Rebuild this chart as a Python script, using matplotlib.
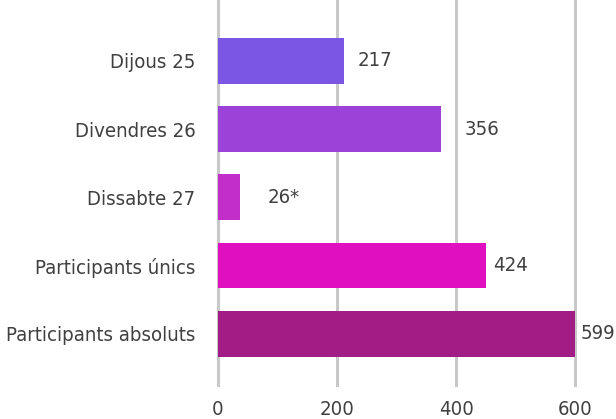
import matplotlib
matplotlib.use("Agg")
import matplotlib.pyplot as plt
from matplotlib import font_manager
from matplotlib.font_manager import FontProperties
from matplotlib.textpath import TextPath

# dades
categories = ["Dijous 25", "Divendres 26", "Dissabte 27", "Participants únics", "Participants absoluts"]
valors = [212, 375, 38, 450, 600]
etiquetes = ["217", "356", "26*", "424", "599"]
colors = ["#7B55E3", "#9D42D8", "#C22EC9", "#E010C0", "#A21C85"]
ticks_x = [0, 200, 400, 600]

# triar una font estreta si n'hi ha
fonts = font_manager.fontManager.ttflist
estreta = None
for f in fonts:
    if f.name == "Liberation Sans Narrow":
        estreta = ("Liberation Sans Narrow", "normal")
        break
if estreta is None:
    for f in fonts:
        if f.name == "DejaVu Sans" and "Condensed" in f.fname:
            estreta = ("DejaVu Sans", "condensed")
            break
if estreta is None:
    estreta = ("Liberation Sans", "normal")
familia, stretch = estreta
plt.rcParams["font.family"] = [familia, "DejaVu Sans"]
plt.rcParams["font.stretch"] = stretch

# mida de lletra perque "Participants absoluts" faci uns 187 px
fp = FontProperties(family=[familia], stretch=stretch, size=16)
amplada = TextPath((0, 0), categories[-1], prop=fp).get_extents().width  # en punts
mida = 16 * (187 * 0.72) / amplada
mida = max(12, min(mida, 17))

fig = plt.figure(figsize=(6.16, 4.19), dpi=100)
ax = fig.add_axes([0.3534, 0.081, 0.934 - 0.3534, 0.919])

pos = list(range(len(categories)))
ax.barh(pos, valors, height=0.67, color=colors, zorder=3)

# separacio de cada etiqueta respecte la barra (punts)
desplac = [10, 17, 20, 5, 4]
for p, v, t, d in zip(pos, valors, etiquetes, desplac):
    ax.annotate(t, (v, p), xytext=(d, 0), textcoords="offset points",
                va="center", ha="left", fontsize=mida, color="#404040",
                annotation_clip=False)

ax.set_xlim(0, 600)
ax.set_ylim(4.75, -0.89)
ax.set_yticks(pos)
ax.set_yticklabels(categories)
ax.set_xticks(ticks_x)
ax.tick_params(axis="both", length=0, labelsize=mida, labelcolor="#404040")
ax.tick_params(axis="y", pad=16)
ax.tick_params(axis="x", pad=11)
ax.grid(axis="x", color="#C8C8C8", linewidth=2.2, zorder=0)
for linia in ax.get_xgridlines():
    linia.set_clip_on(False)
for s in ax.spines.values():
    s.set_visible(False)

fig.savefig("out.png", dpi=100)
